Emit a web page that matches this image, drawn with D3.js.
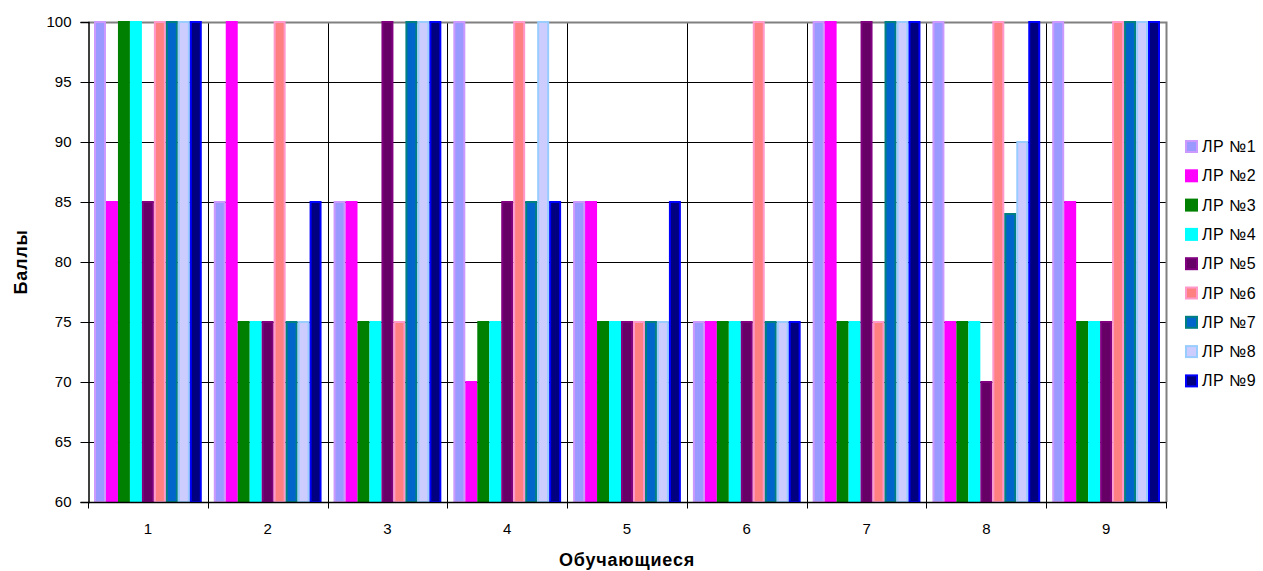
<!DOCTYPE html>
<html>
<head>
<meta charset="utf-8">
<script src="https://cdn.jsdelivr.net/npm/d3@7"></script>
<style>
  body { margin: 0; background: #fff; }
  text { font-family: Arial, "Liberation Sans", sans-serif; }
</style>
</head>
<body>
<svg id="chart" width="1263" height="571"></svg>
<script>
// students (x categories)
var students = ["1", "2", "3", "4", "5", "6", "7", "8", "9"];
var series = ["ЛР №1", "ЛР №2", "ЛР №3", "ЛР №4", "ЛР №5", "ЛР №6", "ЛР №7", "ЛР №8", "ЛР №9"];

// one array per lab work, value for each student
var lr1 = [100, 85, 85, 100, 85, 75, 100, 100, 100];
var lr2 = [85, 100, 85, 70, 85, 75, 100, 75, 85];
var lr3 = [100, 75, 75, 75, 75, 75, 75, 75, 75];
var lr4 = [100, 75, 75, 75, 75, 75, 75, 75, 75];
var lr5 = [85, 75, 100, 85, 75, 75, 100, 70, 75];
var lr6 = [100, 100, 75, 100, 75, 100, 75, 100, 100];
var lr7 = [100, 75, 100, 85, 75, 75, 100, 84, 100];
var lr8 = [100, 75, 100, 100, 75, 75, 100, 90, 100];
var lr9 = [100, 85, 100, 85, 85, 75, 100, 100, 100];
var values = [lr1, lr2, lr3, lr4, lr5, lr6, lr7, lr8, lr9];

var yTicks = [60, 65, 70, 75, 80, 85, 90, 95, 100];

// bar fill and edge colours
var fills = ["#9999ff", "#ff00ff", "#008000", "#00ffff", "#660066", "#ff8080", "#0066cc", "#ccccff", "#000080"];
var edges = ["#cc99ff", "#ff00ff", "#008000", "#00ffff", "#800080", "#ff99cc", "#008080", "#99ccff", "#0000ff"];

var svg = d3.select("#chart");
var plotL = 88, plotR = 1166, plotT = 22, plotB = 502;

var x = d3.scaleBand().domain(students).range([plotL, plotR]).padding(0);
var xs = d3.scaleBand().domain(series).range([6, x.bandwidth() - 6]).padding(0);
var y = d3.scaleLinear().domain([60, 100]).range([plotB, plotT]);

// grid
svg.append("g").selectAll("line")
    .data(yTicks.slice(1, -1))
    .enter().append("line")
    .attr("x1", plotL).attr("x2", plotR)
    .attr("y1", d => y(d) + 0.5).attr("y2", d => y(d) + 0.5)
    .attr("stroke", "#000").attr("stroke-width", 1);

svg.append("g").selectAll("line")
    .data(students.slice(1))
    .enter().append("line")
    .attr("x1", d => Math.round(x(d)) + 0.5).attr("x2", d => Math.round(x(d)) + 0.5)
    .attr("y1", plotT).attr("y2", plotB)
    .attr("stroke", "#000").attr("stroke-width", 1);

// top and right frame
svg.append("path")
    .attr("d", "M" + plotL + "," + (plotT + 0.5) + "H" + (plotR + 0.5) + "V" + plotB)
    .attr("fill", "none").attr("stroke", "#808080").attr("stroke-width", 2);

// bars
var cells = [];
students.forEach(function (s, i) {
    series.forEach(function (k, j) {
        cells.push({ student: s, key: k, j: j, value: values[j][i] });
    });
});

svg.append("g").selectAll("rect")
    .data(cells)
    .enter().append("rect")
    .attr("x", d => x(d.student) + xs(d.key) + 1)
    .attr("y", d => y(d.value))
    .attr("width", xs.bandwidth() - 2)
    .attr("height", d => plotB - y(d.value))
    .attr("fill", d => fills[d.j])
    .attr("stroke", d => edges[d.j])
    .attr("stroke-width", 2);

// axes
var yAxis = d3.axisLeft(y).tickValues(yTicks).tickSize(8).tickPadding(9);
var gy = svg.append("g").attr("transform", "translate(" + (plotL + 0.5) + ",0)").call(yAxis);
gy.select(".domain").attr("stroke", "#000").attr("stroke-width", 1.5);
gy.selectAll("text").attr("font-size", 15).attr("fill", "#000")
    .attr("font-family", "Arial, 'Liberation Sans', sans-serif");

var gx = svg.append("g").attr("transform", "translate(0," + (plotB + 0.5) + ")");
gx.append("line").attr("x1", plotL).attr("x2", plotR + 1).attr("stroke", "#000").attr("stroke-width", 1.5);
gx.selectAll("line.tick")
    .data(d3.range(students.length + 1))
    .enter().append("line")
    .attr("class", "tick")
    .attr("x1", d => Math.round(plotL + d * x.step()) + 0.5)
    .attr("x2", d => Math.round(plotL + d * x.step()) + 0.5)
    .attr("y1", 0).attr("y2", 6)
    .attr("stroke", "#000");
gx.selectAll("text")
    .data(students)
    .enter().append("text")
    .attr("x", d => x(d) + x.bandwidth() / 2)
    .attr("y", 31)
    .attr("text-anchor", "middle")
    .attr("font-size", 15)
    .text(d => d);

// axis titles
svg.append("text")
    .attr("x", (plotL + plotR) / 2).attr("y", 566)
    .attr("text-anchor", "middle")
    .attr("font-size", 18).attr("font-weight", "bold")
    .attr("letter-spacing", 0.8)
    .text("Обучающиеся");

svg.append("text")
    .attr("transform", "translate(27," + ((plotT + plotB) / 2) + ") rotate(-90)")
    .attr("text-anchor", "middle")
    .attr("font-size", 18).attr("font-weight", "bold")
    .attr("letter-spacing", 0.8)
    .text("Баллы");

// legend
var legend = svg.append("g").selectAll("g")
    .data(series)
    .enter().append("g")
    .attr("transform", (d, i) => "translate(1186," + (147 + i * 29.3) + ")");

legend.append("rect")
    .attr("x", 0).attr("y", -6)
    .attr("width", 11).attr("height", 11)
    .attr("fill", (d, i) => fills[i])
    .attr("stroke", (d, i) => edges[i])
    .attr("stroke-width", 2);

legend.append("text")
    .attr("x", 16).attr("y", 5)
    .attr("font-size", 16)
    .attr("letter-spacing", 0.5)
    .text(d => d);
</script>
</body>
</html>
